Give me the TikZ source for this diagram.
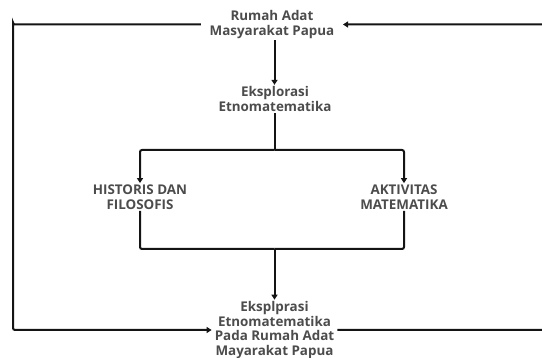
\documentclass[tikz,border=0pt]{standalone}
\usepackage{fontspec}
\setmainfont{Open Sans}
\definecolor{teksabu}{RGB}{76, 76, 76}
\definecolor{garis}{RGB}{20, 20, 20}
\usetikzlibrary{arrows.meta, positioning}

\begin{document}
\begin{tikzpicture}[x=1pt, y=-1pt,
    label/.style={font=\fontsize{13.4}{14.6}\selectfont\bfseries, text=teksabu, align=center, inner xsep=3pt, inner ysep=1.5pt},
    alur/.style={draw=garis, line width=2pt, rounded corners=2pt},
    panah/.style={alur, -{Triangle[length=5pt, width=6pt]}}]
    \useasboundingbox (0,0) rectangle (542,358);

    % Nodes
    \node[label, inner xsep=8.5pt] (rumah) at (272,24.5) {Rumah Adat\\Masyarakat Papua};
    \node[label] (eksplor) at (275,99) {Eksplorasi\\Etnomatematika};
    \node[label] (historis) at (140,197) {HISTORIS DAN\\FILOSOFIS};
    \node[label] (aktivitas) at (404,197) {AKTIVITAS\\MATEMATIKA};
    \node[label] (akhir) at (274.5,330) {Eksplprasi\\Etnomatematika\\Pada Rumah Adat\\Mayarakat Papua};

    % Helper points
    \coordinate (cabang) at (274.5,150);
    \coordinate (gabung) at (274.5,249);
    \coordinate (kiri) at (13,24.5);
    \coordinate (kanan) at (548,330);

    % Main flow
    \draw[panah] (rumah.south -| cabang) -- (eksplor.north -| cabang);
    \draw[alur] (eksplor.south -| cabang) -- (cabang);
    \draw[panah] (cabang) -| (historis.north);
    \draw[panah] (cabang) -| (aktivitas.north);
    \draw[alur] (historis.south) |- (gabung);
    \draw[alur] (aktivitas.south) |- (gabung);
    \draw[panah] (gabung) -- (akhir.north -| gabung);

    % Feedback loops
    \draw[panah] (rumah.west) -| (kiri) |- (akhir.west);
    \draw[panah] (akhir.east) -| (kanan) |- (rumah.east);
\end{tikzpicture}
\end{document}
